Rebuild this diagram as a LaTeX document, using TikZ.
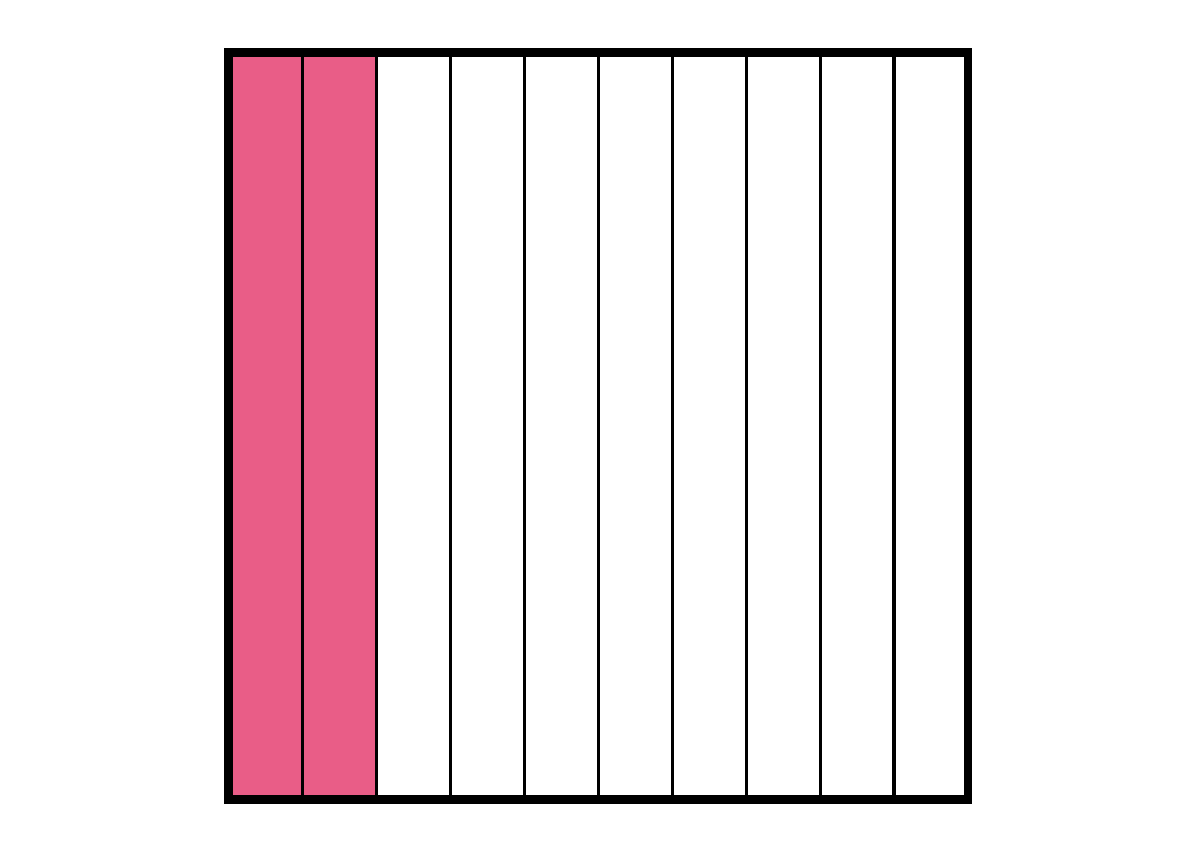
\documentclass[tikz,border=0pt]{standalone}
\usepackage{xcolor}
\usepackage{tikz}
\definecolor{stripfill}{RGB}{233,93,135}

\begin{document}
\begin{tikzpicture}[
    x=0.02cm, y=-0.02cm,
    frame/.style={draw=black, line width=5pt},
    divider/.style={draw=black, line width=1.8pt},
    shaded/.style={fill=stripfill}
]
\useasboundingbox (0,0) rectangle (1200,853);

% Shaded strips
\fill[shaded] (228.5,52.5) rectangle (376.4,799.5);

% Dividers between the ten strips
\foreach \i in {1,...,9}
  \draw[divider] ({228.5+73.95*\i},52.5) -- ({228.5+73.95*\i},799.5);

% Outer frame
\draw[frame] (228.5,52.5) rectangle (968,799.5);

\end{tikzpicture}
\end{document}
